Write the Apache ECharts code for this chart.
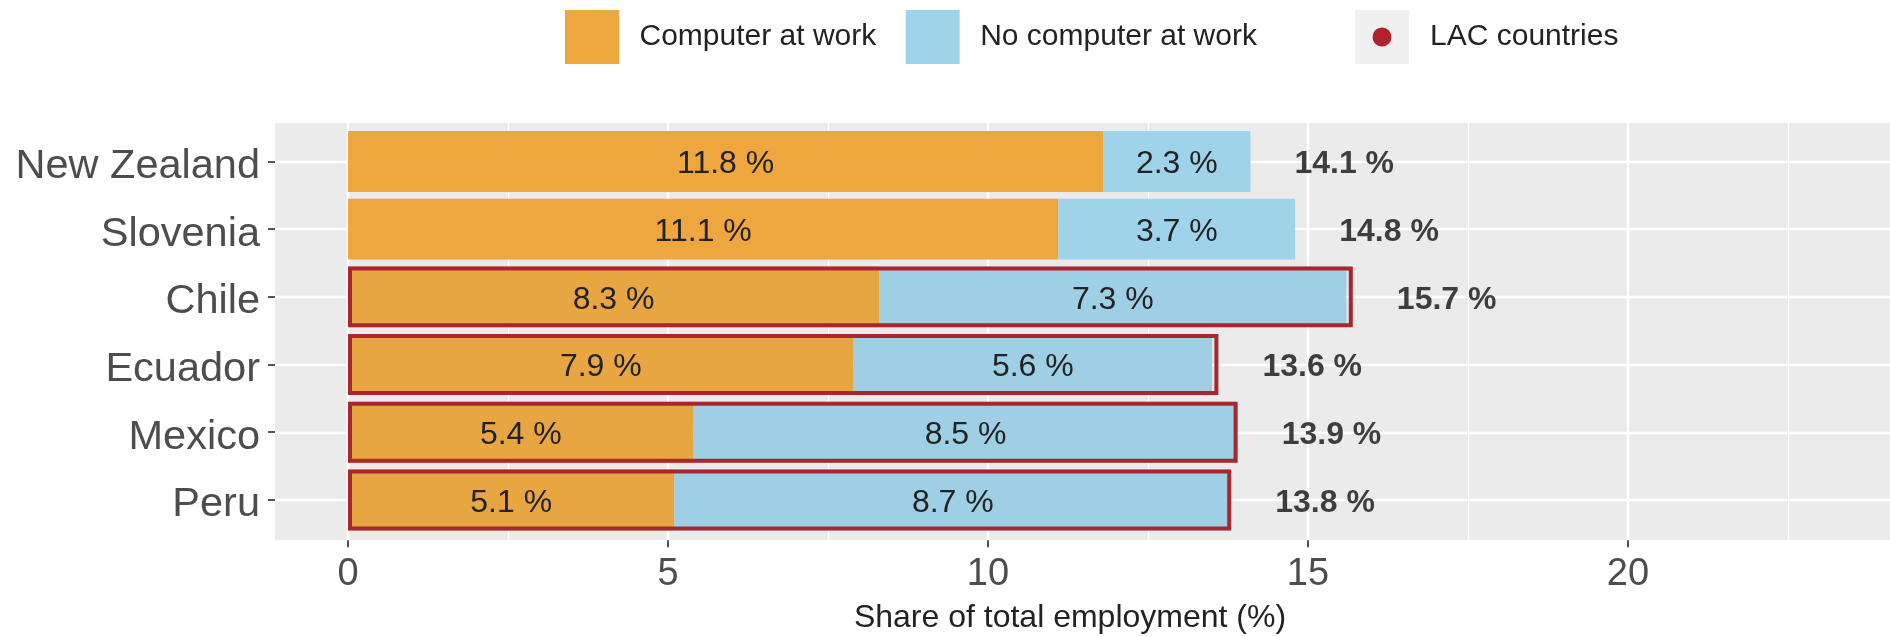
<!DOCTYPE html>
<html>
<head>
<meta charset="utf-8">
<script src="https://cdn.jsdelivr.net/npm/echarts@6/dist/echarts.min.js"></script>
<style>html,body{margin:0;padding:0;background:#fff}#c{width:1890px;height:637px}</style>
</head>
<body>
<div id="c"></div>
<script>
const categories = ['New Zealand', 'Slovenia', 'Chile', 'Ecuador', 'Mexico', 'Peru'];
const computerAtWork = [11.8, 11.1, 8.3, 7.9, 5.4, 5.1];
const noComputerAtWork = [2.3, 3.7, 7.3, 5.6, 8.5, 8.7];
const totals = [14.1, 14.8, 15.7, 13.6, 13.9, 13.8];
const lacFlags = [false, false, true, true, true, true];
const xTicks = [0, 5, 10, 15, 20];

const FONT = "'Liberation Sans', Arial, Helvetica, sans-serif";
const ORANGE = '#EDA73E';
const BLUE = '#9FD3EA';
const LACRED = '#A8262E';

const lacIconSvg = '<svg xmlns="http://www.w3.org/2000/svg" width="54" height="54" viewBox="0 0 54 54">' +
  '<rect x="0" y="0" width="54" height="54" fill="#F0F0F0"/>' +
  '<circle cx="27" cy="27" r="9.5" fill="#B2222B"/></svg>';
const lacIcon = 'image://data:image/svg+xml;charset=utf-8,' + encodeURIComponent(lacIconSvg);

const chart = echarts.init(document.getElementById('c'), null, {renderer: 'canvas'});
const pct = v => v.toFixed(1) + ' %';

chart.setOption({
  animation: false,
  textStyle: {fontFamily: FONT},
  graphic: {
    elements: [
      {type: 'rect', z: -10, silent: true, shape: {x: 275, y: 123, width: 1615, height: 417}, style: {fill: '#EBEBEB'}},
      {type: 'text', z: 10, silent: true, x: 1070, y: 618,
       style: {text: 'Share of total employment (%)', fontSize: 32, fontFamily: FONT, fill: '#222', align: 'center', verticalAlign: 'middle'}}
    ]
  },
  legend: [
    {
      left: 565, top: 10, padding: 0, orient: 'horizontal', itemWidth: 54, itemHeight: 54, itemGap: 29.4,
      selectedMode: false,
      data: [{name: 'Computer at work', icon: 'rect'}, {name: 'No computer at work', icon: 'rect'}],
      textStyle: {fontSize: 30, color: '#222', fontFamily: FONT, padding: [0, 0, 0, 15.5]}
    },
    {
      left: 1355, top: 10, padding: 0, orient: 'horizontal', itemWidth: 54, itemHeight: 54,
      selectedMode: false,
      data: [{name: 'LAC countries', icon: lacIcon}],
      textStyle: {fontSize: 30, color: '#222', fontFamily: FONT, padding: [0, 0, 0, 16]}
    }
  ],
  grid: [
    {left: 28, width: 1920, top: 127.6, height: 406.2, outerBoundsMode: 'none'},
    {left: 28, width: 1920, top: 123, height: 417, outerBoundsMode: 'none'},
    {left: 275, width: 1615, top: 161.5, height: 338.5, outerBoundsMode: 'none'}
  ],
  xAxis: [
    {gridIndex: 0, type: 'value', min: -5, max: 25, interval: 5, offset: 6.4,
     axisLine: {show: false},
     axisTick: {show: true, length: 7, customValues: xTicks, lineStyle: {color: '#555', width: 2}},
     axisLabel: {show: true, customValues: xTicks, fontSize: 38, color: '#4D4D4D', margin: 15, fontFamily: FONT},
     splitLine: {show: false}},
    {gridIndex: 1, type: 'value', min: -5, max: 25, interval: 5,
     axisLine: {show: false}, axisTick: {show: false}, axisLabel: {show: false},
     splitLine: {show: true, lineStyle: {color: '#FFFFFF', width: 2.4}},
     minorTick: {show: false, splitNumber: 2},
     minorSplitLine: {show: true, lineStyle: {color: '#FFFFFF', width: 1.2}}},
    {gridIndex: 2, type: 'value', min: 0, max: 1,
     axisLine: {show: false}, axisTick: {show: false}, axisLabel: {show: false}, splitLine: {show: false}}
  ],
  yAxis: [
    {gridIndex: 0, type: 'category', data: categories, inverse: true, offset: -247,
     axisLine: {show: false, onZero: false},
     axisTick: {show: true, alignWithLabel: true, length: 7, lineStyle: {color: '#555', width: 2}},
     axisLabel: {margin: 15, formatter: v => '{n|' + v + '}',
       rich: {n: {fontSize: 41.5, color: '#4D4D4D', fontFamily: FONT, padding: [10, 0, 0, 0]}}},
     splitLine: {show: false}},
    {gridIndex: 1, type: 'value', min: 0, max: 1,
     axisLine: {show: false}, axisTick: {show: false}, axisLabel: {show: false}, splitLine: {show: false}},
    {gridIndex: 2, type: 'category', data: categories, inverse: true, boundaryGap: false,
     axisLine: {show: false}, axisTick: {show: false}, axisLabel: {show: false},
     splitLine: {show: true, interval: 0, lineStyle: {color: '#FFFFFF', width: 2.4}}}
  ],
  series: [
    {
      name: 'Computer at work', type: 'bar', stack: 'total', xAxisIndex: 0, yAxisIndex: 0,
      barCategoryGap: '10%', data: computerAtWork,
      itemStyle: {color: ORANGE},
      label: {show: true, position: 'inside', offset: [0, 3], formatter: p => pct(p.value), fontSize: 32, color: '#222', fontFamily: FONT}
    },
    {
      name: 'No computer at work', type: 'bar', stack: 'total', xAxisIndex: 0, yAxisIndex: 0,
      barCategoryGap: '10%', data: noComputerAtWork,
      itemStyle: {color: BLUE},
      label: {show: true, position: 'inside', offset: [0, 3], formatter: p => pct(p.value), fontSize: 32, color: '#222', fontFamily: FONT}
    },
    {
      name: 'LAC countries', type: 'bar', xAxisIndex: 0, yAxisIndex: 0,
      barGap: '-100%', barCategoryGap: '10%',
      data: totals.map((t, i) => lacFlags[i] ? t : '-'),
      itemStyle: {color: 'rgba(150,150,150,0.06)', borderColor: LACRED, borderWidth: 4},
      label: {show: false}
    },
    {
      name: 'totals', type: 'scatter', xAxisIndex: 0, yAxisIndex: 0,
      symbolSize: 0.1, itemStyle: {color: 'transparent'},
      data: totals.map((t, i) => [t, i]),
      label: {show: true, position: 'right', distance: 44, offset: [0, 3], formatter: p => pct(totals[p.dataIndex]),
              fontSize: 32, fontWeight: 'bold', color: '#111', fontFamily: FONT}
    }
  ]
});
</script>
</body>
</html>
